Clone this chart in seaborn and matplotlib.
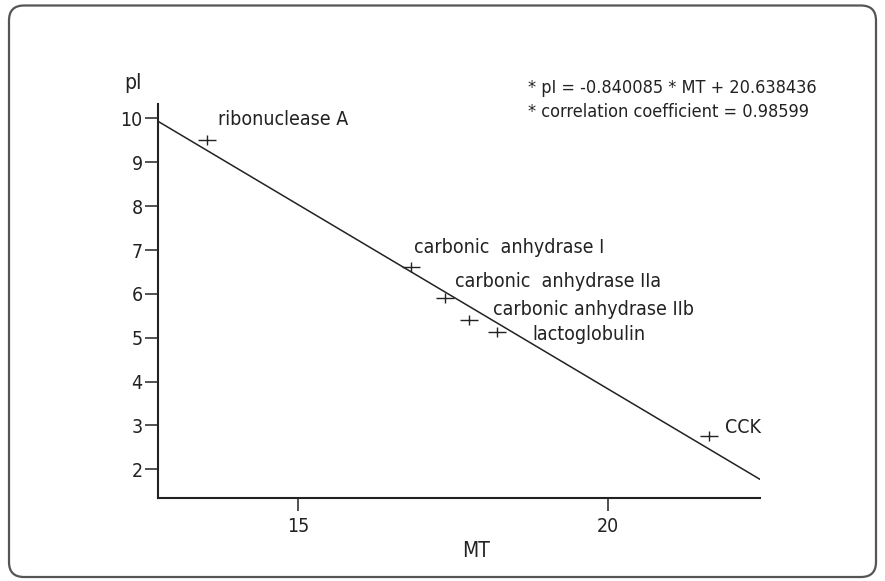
import numpy as np
import pandas as pd
import seaborn as sns
import matplotlib
matplotlib.use("Agg")
import matplotlib.pyplot as plt
from matplotlib.path import Path
from matplotlib.patches import FancyBboxPatch
from matplotlib.transforms import IdentityTransform

# ---- data ----
proteins = ["ribonuclease A", "carbonic  anhydrase I", "carbonic  anhydrase IIa",
            "carbonic anhydrase IIb", "lactoglobulin", "CCK"]
mt_values = [13.53, 16.82, 17.38, 17.76, 18.21, 21.64]
pi_values = [9.50, 6.61, 5.91, 5.40, 5.12, 2.75]
slope = -0.840085
intercept = 20.638436
y_ticks = [2, 3, 4, 5, 6, 7, 8, 9, 10]
x_ticks = [15, 20]
eq_lines = ["* pI = -0.840085 * MT + 20.638436",
            "* correlation coefficient = 0.98599"]
# label offsets (pixels) relative to each point
label_dx = [11, 3, 10, 24, 36, 16]
label_dy = [21, 20, 16, 11, -2, 9]

df = pd.DataFrame({"MT": mt_values, "pI": pi_values, "protein": proteins})

sns.set_style("ticks")
plt.rcParams["font.family"] = ["DejaVu Sans"]
plt.rcParams["font.stretch"] = "condensed"
ink = "#222222"

W, H = 885, 581
fig = plt.figure(figsize=(W / 100, H / 100), dpi=100)
ax = fig.add_axes([158 / W, 1 - 498 / H, (760 - 158) / W, (498 - 104) / H])

ax.axline((0, intercept), slope=slope, color=ink, lw=1.1, zorder=2)

plus = Path([(-1, 0), (1, 0), (0, -0.5), (0, 0.5)],
            [Path.MOVETO, Path.LINETO, Path.MOVETO, Path.LINETO])
sns.scatterplot(data=df, x="MT", y="pI", marker=plus, s=170, color=ink,
                edgecolor=ink, linewidth=1.0, ax=ax, zorder=3, legend=False)

for name, x, y, dx, dy in zip(proteins, mt_values, pi_values, label_dx, label_dy):
    ax.annotate(name, (x, y), xytext=(dx, dy), textcoords="offset pixels",
                ha="left", va="center", fontsize=14, color=ink)

ax.set_xlim(12.74, 22.46)
ax.set_ylim(1.345, 10.33)
ax.set_xticks(x_ticks)
ax.set_yticks(y_ticks)
ax.tick_params(axis="both", length=9.5, width=1.1, color=ink, labelcolor=ink,
               labelsize=14)
ax.tick_params(axis="y", pad=1.5)
ax.tick_params(axis="x", pad=4)
for side in ["top", "right"]:
    ax.spines[side].set_visible(False)
for side in ["left", "bottom"]:
    ax.spines[side].set_linewidth(1.5)
    ax.spines[side].set_color(ink)
ax.set_xlabel("")
ax.set_ylabel("")

fig.text(133 / W, 1 - 83 / H, "pI", ha="center", va="center", fontsize=15, color=ink)
fig.text(476 / W, 1 - 551 / H, "MT", ha="center", va="center", fontsize=15, color=ink)
for i, line in enumerate(eq_lines):
    fig.text(528 / W, 1 - (88 + 24 * i) / H, line, ha="left", va="center",
             fontsize=13, color=ink)

frame = FancyBboxPatch((9, H - 577), 867, 571.5,
                       boxstyle="round,pad=0,rounding_size=15",
                       transform=IdentityTransform(), fill=False,
                       ec="#555555", lw=1.6)
fig.add_artist(frame)

fig.savefig("out.png", dpi=100)
